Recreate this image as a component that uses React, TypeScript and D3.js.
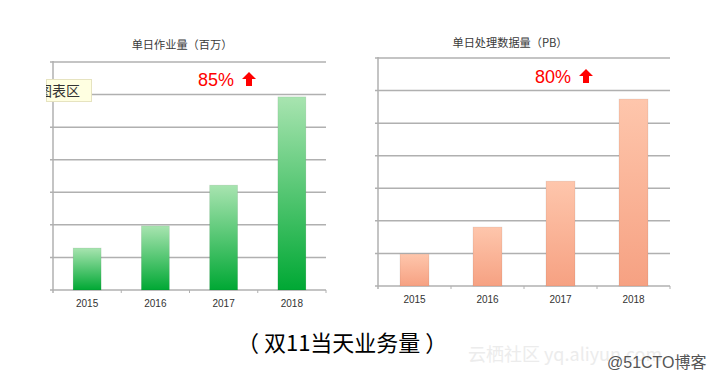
import React from "react";
import * as d3 from "d3";

const years = ["2015", "2016", "2017", "2018"];
const jobsValues = [1.29, 1.97, 3.22, 5.93];
const dataValues = [0.98, 1.81, 3.22, 5.74];
const gridTicks = [0, 1, 2, 3, 4, 5, 6, 7];
const titles = ["单日作业量（百万）", "单日处理数据量（PB）"];
const growthLabels = ["85%", "80%"];
const caption = "（ 双11当天业务量 ）";

type PanelProps = {
  x0: number; x1: number; yTop: number; yBase: number;
  values: number[]; title: string; growth: string; gradId: string;
  barWidth: number; titleX: number; titleY: number; growthX: number; growthY: number;
};

function Panel(p: PanelProps) {
  const x = d3.scaleBand<string>().domain(years).range([p.x0, p.x1]);
  const y = d3.scaleLinear().domain([0, 7]).range([p.yBase, p.yTop]);
  const grid = "#b0b0b0";
  return (
    <g>
      <text x={p.titleX} y={p.titleY} textAnchor="middle" fontSize={11.2}
        fill="#3a3a3a" fontFamily="'Noto Sans CJK SC', sans-serif">{p.title}</text>
      {gridTicks.map((t) => (
        <line key={t} x1={p.x0 - 3} x2={p.x1} y1={y(t)} y2={y(t)} stroke={grid} strokeWidth={1.5} />
      ))}
      <line x1={p.x0} x2={p.x0} y1={p.yTop - 1} y2={p.yBase + 3} stroke={grid} strokeWidth={1.5} />
      {years.map((yr, i) => {
        const bx = (x(yr) as number) + x.bandwidth() / 2;
        return (
          <g key={yr}>
            <line x1={(x(yr) as number) + x.bandwidth()} x2={(x(yr) as number) + x.bandwidth()}
              y1={p.yBase} y2={p.yBase + 3} stroke={grid} strokeWidth={1} />
            <rect x={bx - p.barWidth / 2} y={y(p.values[i])} width={p.barWidth}
              height={p.yBase - y(p.values[i])} fill={`url(#${p.gradId})`}
              stroke="rgba(0,0,0,0.08)" strokeWidth={0.8} />
            <text x={bx} y={p.yBase + 17} textAnchor="middle" fontSize={10} fill="#333"
              fontFamily="'Liberation Sans', Arial, sans-serif">{yr}</text>
          </g>
        );
      })}
      <text x={p.growthX} y={p.growthY} fontSize={18} fill="#ff0000"
        fontFamily="'Liberation Sans', Arial, sans-serif">{p.growth}</text>
      <path transform={`translate(${p.growthX + 44},${p.growthY - 14})`}
        d="M7,0 L14,7 L10,7 L10,14 L4,14 L4,7 L0,7 Z" fill="#ff0000" />
    </g>
  );
}

export default function App() {
  return (
    <svg width={714} height={382} style={{ position: "absolute", left: 0, top: 0, background: "#fff" }}>
      <defs>
        <linearGradient id="gGreen" x1="0" y1="0" x2="0" y2="1">
          <stop offset="0%" stopColor="#a8e4b0" />
          <stop offset="100%" stopColor="#00a834" />
        </linearGradient>
        <linearGradient id="gOrange" x1="0" y1="0" x2="0" y2="1">
          <stop offset="0%" stopColor="#fec6ac" />
          <stop offset="100%" stopColor="#f6a182" />
        </linearGradient>
        <clipPath id="tipClip">
          <rect x={46} y={79} width={46} height={23} />
        </clipPath>
      </defs>
      <rect width={714} height={382} fill="#fff" />
      <Panel x0={53} x1={326} yTop={62} yBase={290} values={jobsValues} title={titles[0]}
        growth={growthLabels[0]} gradId="gGreen" barWidth={28} titleX={182} titleY={49}
        growthX={198} growthY={86} />
      <Panel x0={378} x1={670} yTop={58} yBase={286} values={dataValues} title={titles[1]}
        growth={growthLabels[1]} gradId="gOrange" barWidth={29} titleX={510} titleY={47}
        growthX={535} growthY={83} />
      <g clipPath="url(#tipClip)">
        <rect x={46.5} y={79.5} width={45} height={22} fill="#ffffe1" stroke="#e6e3c0" strokeWidth={1} />
        <text x={38} y={96} fontSize={14} fill="#333" fontFamily="'Noto Sans CJK SC', sans-serif">图表区</text>
      </g>
      <text x={237} y={351} fontSize={22} fill="#000" fontFamily="'Noto Sans CJK SC', sans-serif">{caption}</text>
      <text x={468} y={361} fontSize={18} fill="#ececec" fontFamily="'Noto Sans CJK SC', sans-serif">云栖社区 yq.aliyun.com</text>
      <text x={607} y={368} fontSize={16} fill="#555" fontFamily="'Liberation Sans', 'Noto Sans CJK SC', sans-serif">@51CTO博客</text>
    </svg>
  );
}
